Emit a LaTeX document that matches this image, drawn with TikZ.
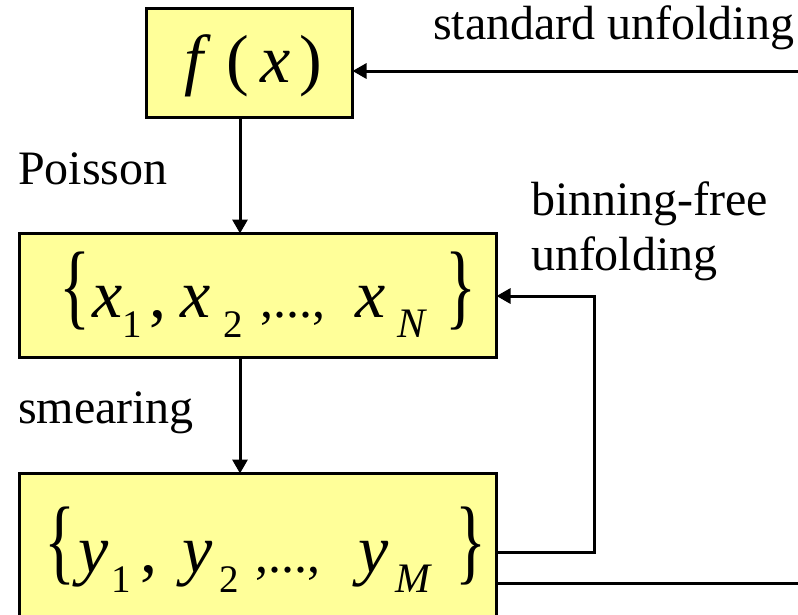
\documentclass[tikz,border=0pt]{standalone}
\usepackage{fontspec}
\setmainfont{Liberation Serif}
\usepackage{graphicx}
\usetikzlibrary{arrows.meta}

\definecolor{boxfill}{HTML}{FFFF99}

% type sizes (1pt = one unit of the picture)
\newcommand{\bigsz}{\fontsize{68}{80}\selectfont}
\newcommand{\subsz}{\fontsize{39}{46}\selectfont}
\newcommand{\idxsz}{\fontsize{42}{48}\selectfont}
\newcommand{\dotsz}{\fontsize{52}{60}\selectfont}
\newcommand{\labsz}{\fontsize{48}{56}\selectfont}
% stretched set braces
\newcommand{\openbr}{\scalebox{0.95}[1.39]{\{}}
\newcommand{\closebr}{\scalebox{0.95}[1.39]{\}}}

\begin{document}
\begin{tikzpicture}[x=1pt,y=-1pt,
  yellowbox/.style={draw=black, line width=3.4pt, fill=boxfill,
    inner sep=0pt, outer sep=0pt},
  glyph/.style={inner sep=0pt, outer sep=0pt, anchor=base west, font=\bigsz},
  subglyph/.style={glyph, font=\subsz},
  idxglyph/.style={glyph, font=\idxsz\itshape},
  dotglyph/.style={glyph, font=\dotsz},
  lbl/.style={inner sep=0pt, outer sep=0pt, anchor=base west, font=\labsz},
  line/.style={draw=black, line width=3pt},
  conn/.style={line, -{Triangle[length=14pt,width=15pt]}}]

\useasboundingbox (0,0) rectangle (798,614);

% boxes
\node[yellowbox, minimum width=206pt, minimum height=109pt] (fbox) at (249.5,63) {};
\node[yellowbox, minimum width=477pt, minimum height=124pt] (xbox) at (258,295.5) {};
\node[yellowbox, minimum width=477pt, minimum height=176pt] (ybox) at (258,561.5) {};

% f(x)
\node[glyph] (fx-f) at (184,82) {\itshape f};
\node[glyph] (fx-lp) at (226,82) {(};
\node[glyph] (fx-x) at (260,82) {\itshape x};
\node[glyph] (fx-rp) at (299,82) {)};

% {x_1, x_2, ..., x_N}
\node[glyph] (xs-l) at (59,317) {\openbr};
\node[glyph] (xs-x1) at (92,317) {\itshape x};
\node[subglyph] (xs-i1) at (122,337) {1};
\node[glyph] (xs-c1) at (149,317) {,};
\node[glyph] (xs-x2) at (180,317) {\itshape x};
\node[subglyph] (xs-i2) at (223,337) {2};
\node[dotglyph] (xs-dots) at (260,317) {,...,};
\node[glyph] (xs-xn) at (355,317) {\itshape x};
\node[idxglyph] (xs-in) at (397,337) {N};
\node[glyph] (xs-r) at (445,317) {\closebr};

% {y_1, y_2, ..., y_M}
\node[glyph] (ys-l) at (44,572) {\openbr};
\node[glyph] (ys-y1) at (78,572) {\itshape y};
\node[subglyph] (ys-i1) at (111,592) {1};
\node[glyph] (ys-c1) at (140,572) {,};
\node[glyph] (ys-y2) at (182,572) {\itshape y};
\node[subglyph] (ys-i2) at (219,592) {2};
\node[dotglyph] (ys-dots) at (255,572) {,...,};
\node[glyph] (ys-ym) at (358,572) {\itshape y};
\node[idxglyph] (ys-im) at (395,592) {M};
\node[glyph] (ys-r) at (455,572) {\closebr};

% labels
\node[lbl] (std) at (433,39) {standard unfolding};
\node[lbl] (poi) at (18,184) {Poisson};
\node[lbl] (bf1) at (531,215) {binning-free};
\node[lbl] (bf2) at (531,270) {unfolding};
\node[lbl] (sme) at (18,423) {smearing};

% vertical flow
\draw[conn] ([xshift=-9.5pt]fbox.south) -- ([xshift=-9.5pt]fbox.south |- xbox.north);
\draw[conn] ([xshift=-18pt]xbox.south) -- ([xshift=-18pt]xbox.south |- ybox.north);

% binning-free loop
\coordinate (bflow) at (594,552);
\coordinate (bfhigh) at (594,296);
\draw[conn] (ybox.east |- bflow) -- (bflow) -- (bfhigh) -- (xbox.east |- bfhigh);

% standard unfolding loop, leaving the frame on the right
\coordinate (sdlow) at (798,583);
\coordinate (sdhigh) at (798,71);
\draw[line] (ybox.east |- sdlow) -- (sdlow);
\draw[conn] (sdhigh) -- (fbox.east |- sdhigh);
\end{tikzpicture}
\end{document}
